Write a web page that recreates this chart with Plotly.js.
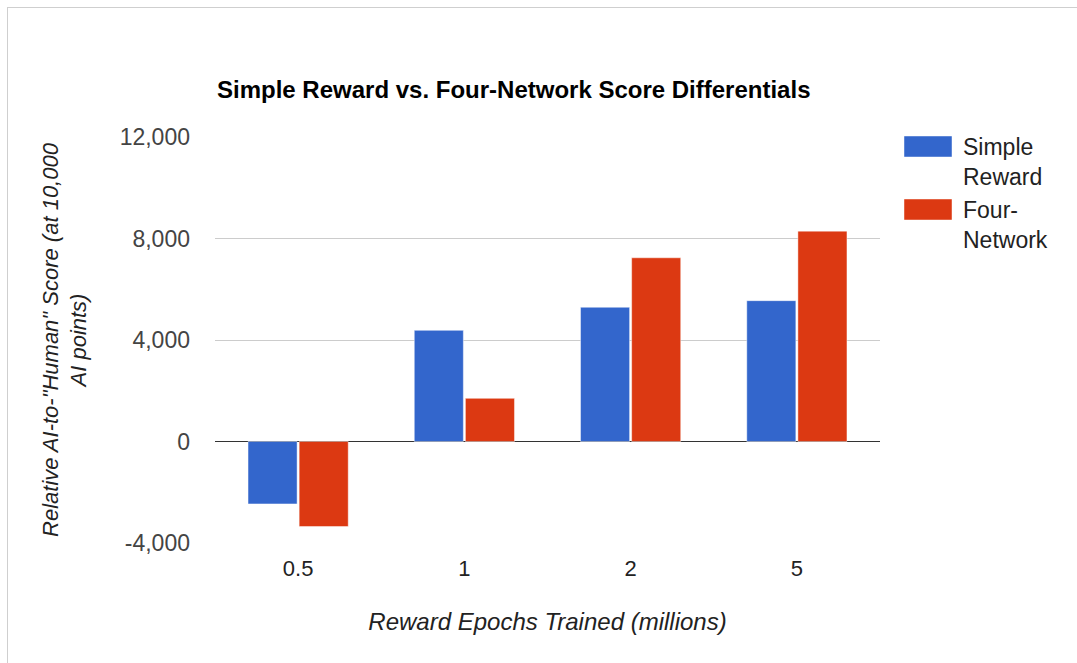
<!DOCTYPE html>
<html>
<head>
<meta charset="utf-8">
<script src="https://cdn.plot.ly/plotly-3.0.1.min.js"></script>
<style>
  html, body { margin: 0; padding: 0; background: #fff; overflow: hidden; }
  #frame { position: absolute; left: 7px; top: 7px; width: 1200px; height: 800px; border-left: 1px solid #cfcfcf; border-top: 1px solid #cfcfcf; pointer-events: none; }
  #chart { position: absolute; left: 0; top: 0; width: 1077px; height: 663px; }
</style>
</head>
<body>
<div id="chart"></div>
<div id="frame"></div>
<script>
// ---- data ----
const categories = ['0.5', '1', '2', '5'];
const simpleReward = [-2460, 4380, 5290, 5550];
const fourNetwork = [-3350, 1700, 7240, 8290];
const seriesNames = ['Simple<br>Reward', 'Four-<br>Network'];
const seriesColors = ['#3366cc', '#dc3912'];
const yTickValues = [-4000, 0, 4000, 8000, 12000];
const yTickLabels = ['-4,000', '0', '4,000', '8,000', '12,000'];
const chartTitle = 'Simple Reward vs. Four-Network Score Differentials';
const xTitle = 'Reward Epochs Trained (millions)';
const yTitle = 'Relative AI-to-"Human" Score (at 10,000<br>AI points)';

const FONT = 'Arial, "Liberation Sans", sans-serif';

const traces = [
  { type: 'bar', x: categories, y: simpleReward, name: 'Simple Reward',
    marker: { color: seriesColors[0], line: { width: 1, color: 'rgba(255,255,255,0.45)' } } },
  { type: 'bar', x: categories, y: fourNetwork, name: 'Four-Network',
    marker: { color: seriesColors[1], line: { width: 1, color: 'rgba(255,255,255,0.45)' } } }
];

// plot area in pixels: left 215, right 880, top 137, bottom 543
const L = 215, R = 880, T = 137, B = 543;
const px = v => (v - L) / (R - L);
const py = v => (B - v) / (B - T);

const layout = {
  width: 1077, height: 663,
  margin: { l: L, r: 1077 - R, t: T, b: 663 - B, pad: 0 },
  paper_bgcolor: 'rgba(0,0,0,0)', plot_bgcolor: '#fff',
  font: { family: FONT, size: 22, color: '#444' },
  showlegend: false,
  barmode: 'group', bargap: 0.385, bargroupgap: 0.04,
  title: { text: '<b>' + chartTitle + '</b>', font: { family: FONT, size: 24, color: '#000' },
           xref: 'paper', x: 0.003, xanchor: 'left', yref: 'container', y: 1 - 90 / 663, yanchor: 'middle' },
  xaxis: {
    type: 'category', showgrid: false, showline: false, zeroline: false, ticks: '',
    tickfont: { family: FONT, size: 22, color: '#222' }, ticklabelstandoff: 10,
    title: { text: '<i>' + xTitle + '</i>', font: { family: FONT, size: 24, color: '#222' }, standoff: 33 },
    automargin: false
  },
  yaxis: {
    range: [-4000, 12000], tickvals: yTickValues, ticktext: yTickLabels,
    showgrid: true, gridcolor: '#cccccc', gridwidth: 1,
    zeroline: true, zerolinecolor: '#333333', zerolinewidth: 1.5,
    showline: false, ticks: '', ticklabelstandoff: 24,
    tickfont: { family: FONT, size: 23, color: '#444' },
    title: { text: '<i>' + yTitle + '</i>', font: { family: FONT, size: 22, color: '#222' }, standoff: 26 },
    automargin: false
  },
  shapes: [
    { type: 'rect', xref: 'paper', yref: 'paper', x0: px(904), x1: px(952), y0: py(157), y1: py(136),
      fillcolor: seriesColors[0], line: { width: 1, color: 'rgba(255,255,255,0.45)' } },
    { type: 'rect', xref: 'paper', yref: 'paper', x0: px(904), x1: px(952), y0: py(220), y1: py(199),
      fillcolor: seriesColors[1], line: { width: 1, color: 'rgba(255,255,255,0.45)' } }
  ],
  annotations: [
    { xref: 'paper', yref: 'paper', x: px(961), y: py(132), xanchor: 'left', yanchor: 'top', align: 'left',
      showarrow: false, text: seriesNames[0], font: { family: FONT, size: 23, color: '#222' } },
    { xref: 'paper', yref: 'paper', x: px(961), y: py(195), xanchor: 'left', yanchor: 'top', align: 'left',
      showarrow: false, text: seriesNames[1], font: { family: FONT, size: 23, color: '#222' } }
  ]
};

Plotly.newPlot('chart', traces, layout, { displayModeBar: false, staticPlot: true });
</script>
</body>
</html>
